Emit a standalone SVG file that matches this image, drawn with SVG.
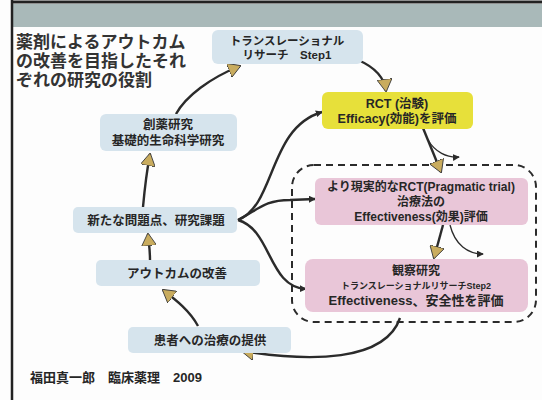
<svg xmlns="http://www.w3.org/2000/svg" width="542" height="400" viewBox="0 0 542 400">
<style>
text{font-family:"Liberation Sans","Noto Sans CJK JP",sans-serif;font-weight:bold;fill:#262626;text-anchor:middle}
.blue{fill:#d6e4ed}
.yel{fill:#e7e03a}
.pink{fill:#e9c6d8}
.c{fill:none;stroke:#2b2b2b;stroke-width:2.4}
.thin{fill:none;stroke:#2b2b2b;stroke-width:1.3}
.title{font-size:17px;text-anchor:start;fill:#333}
</style>
<defs>
<marker id="tan" viewBox="0 0 12 14" refX="11" refY="7" markerWidth="13" markerHeight="15" markerUnits="userSpaceOnUse" orient="auto">
<path d="M0,0 L12,7 L0,14 Z" fill="#c9ac5e" stroke="#3a3a3a" stroke-width="0.8"/>
</marker>
<marker id="blk" viewBox="0 0 8 8" refX="7" refY="4" markerWidth="7" markerHeight="7" markerUnits="userSpaceOnUse" orient="auto">
<path d="M0,0 L8,4 L0,8 Z" fill="#2b2b2b"/>
</marker>
</defs>
<rect x="0" y="0" width="542" height="400" fill="#fdfdfd"/>
<rect x="12" y="4" width="530" height="23" fill="#a9b9b9"/>
<line x1="12" y1="2" x2="542" y2="2" stroke="#222" stroke-width="3"/>
<line x1="12" y1="0" x2="12" y2="400" stroke="#222" stroke-width="2.5"/>
<g id="title">
<text class="title" x="16" y="48">薬剤によるアウトカム</text>
<text class="title" x="16" y="67">の改善を目指したそれ</text>
<text class="title" x="16" y="86">ぞれの研究の役割</text>
</g>
<rect x="292" y="165" width="244" height="157" rx="22" fill="none" stroke="#2b2b2b" stroke-width="2" stroke-dasharray="7,5"/>
<g id="connectors">
<path class="c" d="M176,114 C186,96 210,78 240,66" marker-end="url(#tan)"/>
<path class="c" d="M358,60 C372,66 384,75 386,91" marker-end="url(#tan)"/>
<path class="c" d="M238,220 C276,205 268,128 322,112" marker-end="url(#blk)"/>
<path class="c" d="M238,220 C258,210 264,200 290,200 L315,199" marker-end="url(#blk)"/>
<path class="c" d="M238,220 C272,230 268,287 306,289" marker-end="url(#blk)"/>
<path class="c" d="M423,128 L441,172" marker-end="url(#tan)"/>
<path class="thin" d="M428,140 C435,152 447,158 459,157" marker-end="url(#blk)"/>
<path class="c" d="M443,225 L434,258" marker-end="url(#tan)"/>
<path class="thin" d="M450,225 C455,245 468,254 483,254" marker-end="url(#blk)"/>
<path class="c" d="M400,318 C385,362 310,362 242,351" marker-end="url(#tan)"/>
<path class="c" d="M198,326 C190,311 176,300 163,290" marker-end="url(#tan)"/>
<path class="c" d="M150,260 C150,250 149,245 148,234" marker-end="url(#tan)"/>
<path class="c" d="M143,207 C145,185 147,170 150,154" marker-end="url(#tan)"/>
</g>
<g id="step1">
<rect class="blue" x="212" y="30" width="151" height="34" rx="6"/>
<text x="287" y="45" font-size="11.5">トランスレーショナル</text>
<text x="287" y="59" font-size="11.5">リサーチ　Step1</text>
</g>
<g id="rct">
<rect class="yel" x="322" y="92" width="151" height="37" rx="6"/>
<text x="397" y="108" font-size="12.5">RCT (治験)</text>
<text x="397" y="123" font-size="12.5">Efficacy(効能)を評価</text>
</g>
<g id="souyaku">
<rect class="blue" x="100" y="114" width="137" height="37" rx="6"/>
<text x="168" y="129" font-size="12.5">創薬研究</text>
<text x="168" y="145" font-size="12.5">基礎的生命科学研究</text>
</g>
<g id="arata">
<rect class="blue" x="73" y="207" width="164" height="26" rx="5"/>
<text x="156" y="225" font-size="12.5">新たな問題点、研究課題</text>
</g>
<g id="outcome">
<rect class="blue" x="96" y="260" width="164" height="26" rx="5"/>
<text x="177" y="278" font-size="12.5">アウトカムの改善</text>
</g>
<g id="kanja">
<rect class="blue" x="128" y="327" width="163" height="26" rx="5"/>
<text x="210" y="345" font-size="12.5">患者への治療の提供</text>
</g>
<g id="pragmatic">
<rect class="pink" x="315" y="178" width="213" height="47" rx="6"/>
<text x="421" y="191" font-size="12">より現実的なRCT(Pragmatic trial)</text>
<text x="421" y="206" font-size="12">治療法の</text>
<text x="421" y="221" font-size="12">Effectiveness(効果)評価</text>
</g>
<g id="kansatsu">
<rect class="pink" x="305" y="259" width="223" height="53" rx="8"/>
<text x="416" y="275" font-size="12">観察研究</text>
<text x="416" y="289" font-size="9">トランスレーショナルリサーチStep2</text>
<text x="416" y="305" font-size="13">Effectiveness、安全性を評価</text>
</g>
<g id="footer">
<text x="30" y="382" font-size="13" style="text-anchor:start">福田真一郎　臨床薬理　2009</text>
</g>
</svg>
